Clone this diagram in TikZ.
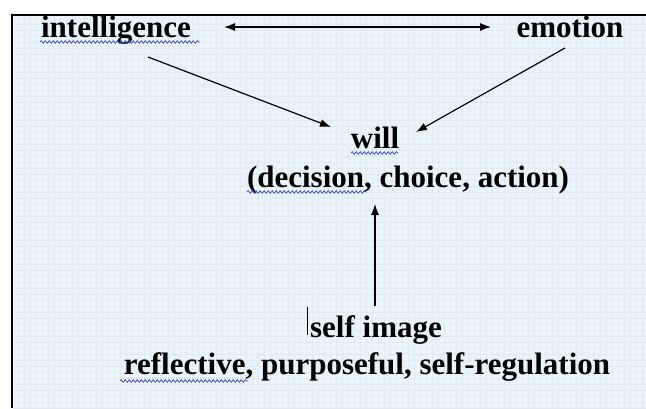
\documentclass[tikz,border=0pt]{standalone}
\usepackage{fontspec}
\setmainfont{Liberation Serif}
\usetikzlibrary{arrows.meta}
\usetikzlibrary{decorations.pathmorphing}
\definecolor{paper}{RGB}{234,244,250}
\definecolor{weave}{RGB}{224,235,242}
\definecolor{squiggle}{RGB}{60,70,220}

\begin{document}
\begin{tikzpicture}[x=1pt,y=-1pt,
  word/.style={font=\bfseries\fontsize{31}{34}\selectfont,anchor=base,inner sep=0pt},
  link/.style={line width=1.2pt,-{Latex[length=11pt,width=8pt]}},
  spell/.style={squiggle,line width=0.7pt,decorate,decoration={snake,segment length=4pt,amplitude=1.3pt}}]
\useasboundingbox (0,0) rectangle (646,408);
\fill[white] (0,0) rectangle (646,408);
\fill[paper] (12,15) rectangle (646,408);
\draw[weave,line width=0.3pt,step=6pt] (13,16) grid (646,408);
\draw[line width=1.6pt] (12,408)--(12,15)--(646,15);

\node[word] (intel) at (116,37) {intelligence};
\node[word] (emo) at (570,37) {emotion};
\node[word] (will) at (375,148) {will};
\node[word] (dca) at (408,187) {(decision, choice, action)};
\node[word] (self) at (376,337) {self image};
\node[word] (refl) at (367,374) {reflective, purposeful, self-regulation};

\coordinate (intelL) at (224,27);
\coordinate (emoR) at (491,27);
\coordinate (intelS) at (148,57);
\coordinate (willL) at (331,127);
\coordinate (emoS) at (565,48);
\coordinate (willR) at (416,132);
\coordinate (selfN) at (375,306);
\coordinate (dcaS) at (375,204);

\draw[link,{Latex[length=11pt,width=8pt]}-{Latex[length=11pt,width=8pt]}] (intelL)--(emoR);
\draw[link] (intelS)--(willL);
\draw[link] (emoS)--(willR);
\draw[link] (selfN)--(dcaS);

% spell check marks
\draw[spell] (40,42)--(200,42);
\draw[spell] (351,153)--(398,153);
\draw[spell] (247,192)--(366,192);
\draw[spell] (120,381)--(248,381);

% text cursor
\draw[line width=0.9pt] (307,307)--(307,335);
\end{tikzpicture}
\end{document}
